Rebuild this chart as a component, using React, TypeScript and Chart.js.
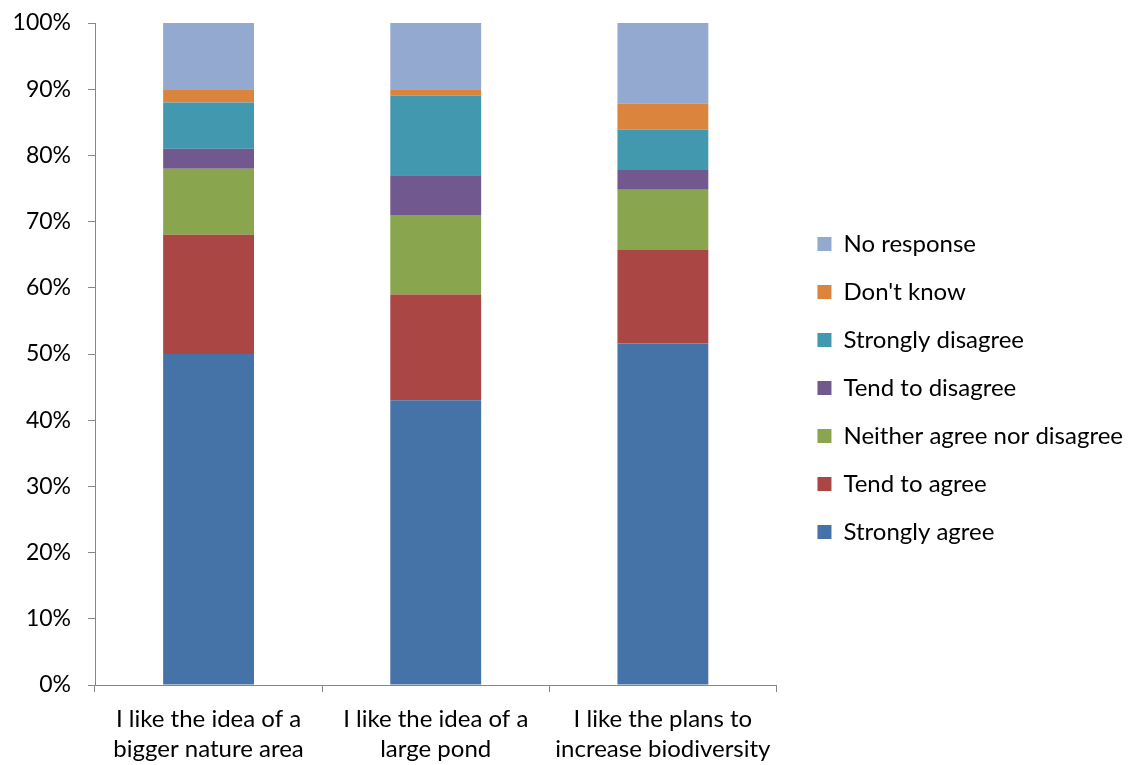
import React, { useEffect, useRef } from "react";
import { Chart, registerables } from "chart.js";

Chart.register(...registerables);

const categories: string[][] = [
  ["I like the idea of a", "bigger nature area"],
  ["I like the idea of a", "large pond"],
  ["I like the plans to", "increase biodiversity"],
];

const stronglyAgree = [50, 43, 51.6];
const tendToAgree = [18, 16, 14.1];
const neither = [10, 12, 9.1];
const tendToDisagree = [3, 6, 3.0];
const stronglyDisagree = [7, 12, 6.1];
const dontKnow = [2, 1, 3.9];
const noResponse = [10, 10, 12.2];

const yTicks = [0, 10, 20, 30, 40, 50, 60, 70, 80, 90, 100];

const FONT = "Lato, 'Open Sans', sans-serif";

const legendShift = {
  id: "legendShift",
  afterLayout(chart: any) {
    const lg = chart.legend;
    if (lg) {
      lg.left = chart.chartArea.right + 17;
      lg.right = chart.width;
      lg.width = lg.right - lg.left;
      lg.top -= 6;
      lg.bottom -= 6;
    }
  },
};

export default function App() {
  const ref = useRef<HTMLCanvasElement | null>(null);

  useEffect(() => {
    document.body.style.margin = "0";
    let chart: Chart | null = null;
    let cancelled = false;
    const build = () => {
      if (cancelled || !ref.current) return;
      const series = [
        { label: "Strongly agree", data: stronglyAgree, color: "#4572A7" },
        { label: "Tend to agree", data: tendToAgree, color: "#AA4643" },
        { label: "Neither agree nor disagree", data: neither, color: "#89A54E" },
        { label: "Tend to disagree", data: tendToDisagree, color: "#71588F" },
        { label: "Strongly disagree", data: stronglyDisagree, color: "#4198AF" },
        { label: "Don't know", data: dontKnow, color: "#DB843D" },
        { label: "No response", data: noResponse, color: "#93A9CF" },
      ];
      chart = new Chart(ref.current, {
        type: "bar",
        data: {
          labels: categories,
          datasets: series.map((s) => ({
            label: s.label,
            data: s.data,
            backgroundColor: s.color,
            borderWidth: 0,
            barPercentage: 0.4,
            categoryPercentage: 1,
          })),
        },
        plugins: [legendShift],
        options: {
          animation: false,
          responsive: false,
          maintainAspectRatio: false,
          layout: { padding: { top: 23, left: 0, right: 20, bottom: 0 } },
          plugins: {
            tooltip: { enabled: false },
            legend: {
              position: "right",
              reverse: true,
              maxWidth: 500,
              labels: {
                boxWidth: 14,
                boxHeight: 14,
                padding: 24,
                color: "#000",
                font: { family: FONT, size: 24 },
              },
            },
          },
          scales: {
            x: {
              stacked: true,
              border: { color: "#868686", width: 1 },
              grid: {
                offset: true,
                drawOnChartArea: false,
                drawTicks: true,
                tickLength: 7,
                color: "#868686",
              },
              ticks: {
                color: "#000",
                font: { family: FONT, size: 24, lineHeight: 1.25 },
                padding: 12,
                maxRotation: 0,
              },
              afterFit: (s: any) => {
                s.height = 80;
                s.paddingLeft = 0;
                s.paddingRight = 0;
              },
            },
            y: {
              stacked: true,
              min: 0,
              max: 100,
              border: { color: "#868686", width: 1 },
              grid: {
                drawOnChartArea: false,
                drawTicks: true,
                tickLength: 7,
                color: "#868686",
              },
              afterBuildTicks: (s: any) => {
                s.ticks = yTicks.map((v) => ({ value: v }));
              },
              ticks: {
                color: "#000",
                font: { family: FONT, size: 23 },
                padding: 17,
                callback: (v: any) => v + "%",
              },
              afterFit: (s: any) => {
                s.width = 95;
                s.paddingTop = 0;
                s.paddingBottom = 0;
              },
            },
          },
        },
      });
    };
    const fonts: any = (document as any).fonts;
    if (fonts && fonts.load) {
      Promise.all([fonts.load("24px Lato"), fonts.load("23px Lato")])
        .catch(() => null)
        .then(build);
    } else {
      build();
    }
    return () => {
      cancelled = true;
      if (chart) chart.destroy();
    };
  }, []);

  return (
    <div style={{ position: "absolute", left: 0, top: 0, width: 1136, height: 765 }}>
      <canvas ref={ref} width={1136} height={765} style={{ width: 1136, height: 765 }} />
    </div>
  );
}
